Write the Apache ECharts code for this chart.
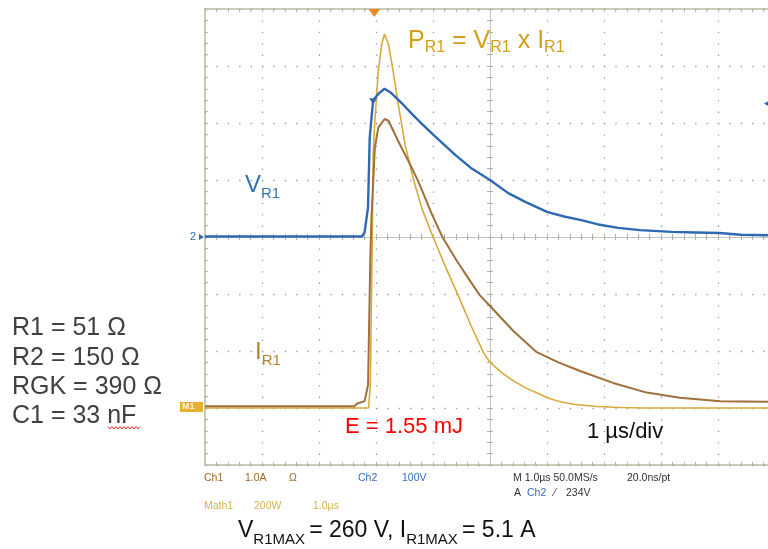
<!DOCTYPE html>
<html><head><meta charset="utf-8">
<script src="https://cdn.jsdelivr.net/npm/echarts@6/dist/echarts.min.js"></script>
<style>html,body{margin:0;padding:0;background:#fff}#c{width:768px;height:549px}</style>
</head><body><div id="c"></div>
<script>
// ---- data (time in µs from left edge of screen, 1 µs/div) ----
const timeVR1 = [0, 2.75, 2.8, 2.86, 2.89, 2.95, 3.0, 3.05, 3.15, 3.25, 3.45, 3.6, 3.8, 4.04, 4.39, 4.68, 5.0, 5.32, 5.61, 6.0, 6.3, 6.58, 6.9, 7.25, 7.63, 8.19, 8.6, 9.03, 9.4, 9.86, 10];
const valuesVR1 = [1, 1, 8, 52, 175, 240, 246, 252, 260, 254, 235, 219, 199, 176, 144, 120, 100, 77, 62, 44, 36, 30, 22, 16, 12, 9, 8, 7, 4, 3, 3];
const timeIR1 = [0, 2.62, 2.67, 2.8, 2.86, 2.88, 2.9, 2.92, 2.98, 3.04, 3.15, 3.22, 3.39, 3.57, 3.74, 3.98, 4.17, 4.42, 4.65, 4.82, 5.0, 5.41, 5.82, 6.2, 6.58, 7.16, 7.75, 8.33, 9.04, 9.85, 10];
const valuesIR1 = [0.03, 0.03, 0.08, 0.12, 0.4, 1.5, 2.6, 3.34, 4.57, 4.92, 5.07, 5.04, 4.68, 4.33, 3.98, 3.40, 2.99, 2.58, 2.23, 1.98, 1.79, 1.35, 0.98, 0.80, 0.65, 0.44, 0.27, 0.18, 0.12, 0.11, 0.11];
const timePR1 = [0, 2.87, 2.9, 2.93, 2.95, 2.98, 3.04, 3.10, 3.15, 3.22, 3.30, 3.39, 3.51, 3.65, 3.80, 4.0, 4.22, 4.44, 4.66, 4.88, 5.0, 5.2, 5.41, 5.65, 5.88, 6.0, 6.2, 6.46, 6.87, 7.3, 7.69, 10];
const valuesPR1 = [0, 0, 80, 520, 890, 1007, 1182, 1276, 1312, 1276, 1182, 1066, 925, 808, 703, 600, 495, 396, 292, 196, 160, 125, 95, 68, 48, 36, 24, 13, 5, 2, 0, 0];
const timeRange = [0, 10];       // µs, 1 µs/div
const ch2Range = [-400, 400];    // V, 100 V/div
const ch1Range = [-1, 7];        // A, 1 A/div
const mathRange = [-200, 1400];  // W, 200 W/div
const triggerTime = 2.97;
const triggerLevel = 234;        // V
const triggerMarkTime = 2.95;
const componentLabels = ['R1 = 51 Ω', 'R2 = 150 Ω', 'RGK = 390 Ω', 'C1 = 33 nF'];
const statusRow1 = [['Ch1', 'ch1'], ['1.0A', 'ch1'], ['Ω', 'ch1'], ['Ch2', 'ch2'], ['100V', 'ch2'], ['M 1.0µs 50.0MS/s', 'dark'], ['20.0ns/pt', 'dark']];
const statusRow2 = [['A', 'dark'], ['Ch2', 'ch2'], ['⁄', 'dark'], ['234V', 'dark']];
const statusRow3 = [['Math1', 'math'], ['200W', 'math'], ['1.0µs', 'math']];

const zip = (a, b) => a.map((v, i) => [v, b[i]]);
const FF = '"Liberation Sans", Arial, sans-serif';
const C = { blue: '#2f69b3', brown: '#a0703c', gold: '#d9a93a', ch1: '#9c6a2c', ch2: '#3a6cc0', dark: '#333333', math: '#d9b050' };

const chart = echarts.init(document.getElementById('c'), null, { renderer: 'canvas' });

const hiddenAxis = (extra) => Object.assign({ type: 'value', show: false }, extra);
const tickAxis = (extra) => Object.assign({
  type: 'value', axisLabel: { show: false }, splitLine: { show: false },
  axisLine: { show: false, onZero: false },
  axisTick: { show: true, length: 3, lineStyle: { color: '#b5b5a8', width: 1 } }
}, extra);

function txt(x, y, text, color, size, extra) {
  return { type: 'text', x: x, y: y, silent: true, style: Object.assign({ text: text, fill: color, fontSize: size, fontFamily: FF, align: 'left', verticalAlign: 'middle' }, extra || {}) };
}
function sub(size, lh, color) {
  return { s: { fontSize: size, fontFamily: FF, lineHeight: lh, verticalAlign: 'bottom', fill: color } };
}

const graphics = [];
graphics.push(txt(408, 41, 'P{s|R1} = V{s|R1} x I{s|R1}', '#d4a017', 25, { lineHeight: 29, rich: sub(16, 16, '#d4a017') }));
graphics.push(txt(245, 185, 'V{s|R1}', '#2e75b6', 24, { lineHeight: 32, rich: sub(15, 16, '#2e75b6') }));
graphics.push(txt(255, 352, 'I{s|R1}', '#b5832c', 24, { lineHeight: 32, rich: sub(15, 16, '#b5832c') }));
graphics.push(txt(345, 427, 'E = 1.55 mJ', '#ff0000', 22));
graphics.push(txt(587, 432, '1 µs/div', '#111111', 22));
graphics.push(txt(238, 531, 'V{s|R1MAX }= 260 V, I{s|R1MAX }= 5.1 A', '#111111', 23, { lineHeight: 32, rich: sub(15, 16, '#111111') }));
const compY = [328, 358, 387, 416];
componentLabels.forEach((t, i) => graphics.push(txt(12, compY[i], t, '#404040', 25)));
// spell-check squiggle under "nF"
const squiggle = [];
for (let x = 108; x <= 140; x += 2) squiggle.push([x, (x / 2) % 2 === 0 ? 426.5 : 429]);
graphics.push({ type: 'polyline', silent: true, shape: { points: squiggle }, style: { stroke: '#e03030', lineWidth: 1, fill: null } });
// status bar
const row1X = [204, 245, 289, 358, 402, 513, 627];
statusRow1.forEach((p, i) => graphics.push(txt(row1X[i], 478, p[0], C[p[1]], 10.5)));
const row2X = [514, 527, 554, 566];
statusRow2.forEach((p, i) => graphics.push(txt(row2X[i], 493, p[0], C[p[1]], 10.5)));
const row3X = [204, 254, 313];
statusRow3.forEach((p, i) => graphics.push(txt(row3X[i], 506, p[0], C[p[1]], 10.5)));
// channel ground markers at left edge
graphics.push(txt(190, 237, '2', C.blue, 11));
graphics.push({ type: 'polygon', silent: true, shape: { points: [[199, 234], [204, 237], [199, 240]] }, style: { fill: C.blue } });
graphics.push({ type: 'rect', silent: true, shape: { x: 180, y: 402, width: 23, height: 10 }, style: { fill: '#e8b030' } });
graphics.push(txt(182, 407, 'M1', '#fff6c8', 9, { fontWeight: 'bold' }));

const option = {
  animation: false,
  backgroundColor: '#ffffff',
  grid: { left: 205, top: 9, width: 570, height: 456, show: true, borderColor: '#cbcbb6', borderWidth: 2, outerBoundsMode: 'none', containLabel: false },
  xAxis: [
    { type: 'value', min: timeRange[0], max: timeRange[1], interval: 1,
      axisLine: { show: false }, axisTick: { show: false }, axisLabel: { show: false },
      splitLine: { show: true, lineStyle: { color: '#9a9a9a', width: 1.3, type: [1.3, 10.1] } } },
    hiddenAxis({ min: -5, max: 5 }),
    tickAxis({ min: 0, max: 50, interval: 1, position: 'top', axisTick: { show: true, inside: true, length: 3, lineStyle: { color: '#b5b5a8' } } }),
    tickAxis({ min: 0, max: 50, interval: 1, position: 'bottom', axisTick: { show: true, inside: true, length: 3, lineStyle: { color: '#b5b5a8' } } }),
    tickAxis({ min: 0, max: 50, interval: 1, position: 'bottom',
      axisLine: { show: true, onZero: true, onZeroAxisIndex: 0, lineStyle: { color: '#c6c6c0', width: 1 } },
      axisTick: { show: true, inside: false, length: 3, lineStyle: { color: '#b0b0a8' } } }),
    tickAxis({ min: 0, max: 50, interval: 1, position: 'bottom',
      axisLine: { show: false, onZero: true, onZeroAxisIndex: 0 },
      axisTick: { show: true, inside: true, length: 3, lineStyle: { color: '#b0b0a8' } } })
  ],
  yAxis: [
    { type: 'value', min: ch2Range[0], max: ch2Range[1], interval: 100,
      axisLine: { show: false }, axisTick: { show: false }, axisLabel: { show: false },
      splitLine: { show: true, lineStyle: { color: '#9a9a9a', width: 1.3, type: [1.3, 10.1] } } },
    hiddenAxis({ min: ch1Range[0], max: ch1Range[1] }),
    hiddenAxis({ min: mathRange[0], max: mathRange[1] }),
    tickAxis({ min: 0, max: 40, interval: 1, position: 'left', axisTick: { show: true, inside: true, length: 3, lineStyle: { color: '#b5b5a8' } } }),
    tickAxis({ min: 0, max: 40, interval: 1, position: 'left',
      axisLine: { show: true, onZero: true, onZeroAxisIndex: 1, lineStyle: { color: '#c6c6c0', width: 1 } },
      axisTick: { show: true, inside: false, length: 3, lineStyle: { color: '#b0b0a8' } } }),
    tickAxis({ min: 0, max: 40, interval: 1, position: 'left',
      axisLine: { show: false, onZero: true, onZeroAxisIndex: 1 },
      axisTick: { show: true, inside: true, length: 3, lineStyle: { color: '#b0b0a8' } } })
  ],
  series: [
    { name: 'Math1 (P R1)', type: 'line', xAxisIndex: 0, yAxisIndex: 2, data: zip(timePR1, valuesPR1),
      showSymbol: false, symbol: 'none', smooth: false, lineStyle: { color: C.gold, width: 1.6 }, z: 3 },
    { name: 'Ch1 (I R1)', type: 'line', xAxisIndex: 0, yAxisIndex: 1, data: zip(timeIR1, valuesIR1),
      showSymbol: false, symbol: 'none', lineStyle: { color: C.brown, width: 2 }, z: 4 },
    { name: 'Ch2 (V R1)', type: 'line', xAxisIndex: 0, yAxisIndex: 0, data: zip(timeVR1, valuesVR1),
      showSymbol: false, symbol: 'none', lineStyle: { color: C.blue, width: 2.4 }, z: 5,
      markPoint: { silent: true, label: { show: false }, data: [
        { coord: [triggerMarkTime, 238], symbol: 'triangle', symbolSize: [8, 6], symbolRotate: 180, itemStyle: { color: C.blue } },
        { coord: [triggerTime, ch2Range[1]], symbol: 'triangle', symbolSize: [12, 8], symbolRotate: 180, symbolOffset: [0, 4], itemStyle: { color: '#f08a24' } },
        { coord: [9.86, triggerLevel], symbol: 'triangle', symbolSize: [7, 6], symbolRotate: 90, itemStyle: { color: C.blue } }
      ] } }
  ],
  graphic: graphics
};
chart.setOption(option);
</script></body></html>
